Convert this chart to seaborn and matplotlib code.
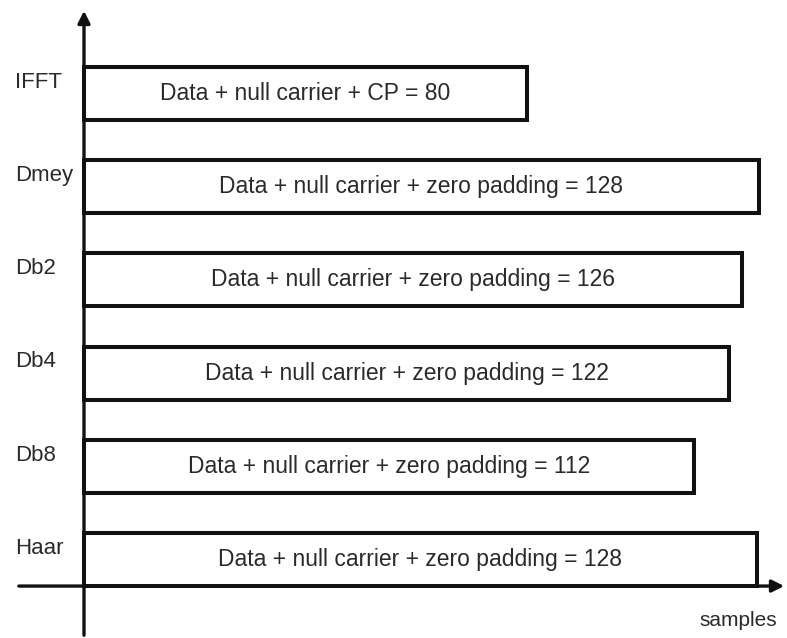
import pandas as pd
from matplotlib import pyplot as plt
import seaborn as sb

sb.set_theme(style="white")
plt.rcParams["font.family"] = ["Liberation Sans", "DejaVu Sans"]

methods = ["IFFT", "Dmey", "Db2", "Db4", "Db8", "Haar"]
sample_counts = [80, 128, 126, 122, 112, 128]
padding = ["CP", "zero padding", "zero padding", "zero padding", "zero padding", "zero padding"]
# drawn length of each block (samples axis)
block_length = [84.1, 128.0, 124.9, 122.4, 115.8, 127.7]

data = pd.DataFrame({"method": methods, "length": block_length})

BAR_W = 0.57
fig = plt.figure(figsize=(7.87, 6.38), dpi=100)
ax = fig.add_axes([0, 0, 1, 1])

sb.barplot(data=data, x="length", y="method", orient="h", color="white",
           edgecolor="#111111", linewidth=2.9, width=BAR_W, ax=ax)

# block captions
for i, (n, pad) in enumerate(zip(sample_counts, padding)):
    ax.text(block_length[i] / 2, i, "Data + null carrier + %s = %d" % (pad, n),
            ha="center", va="center", fontsize=16.5, color="#2a2a2a")

# method names on the left, a bit above the block centre
for i, m in enumerate(methods):
    ax.text(15 / 787, i - 0.12, m, transform=ax.get_yaxis_transform(),
            ha="left", va="center", fontsize=16, color="#2a2a2a")

ax.set_xlim(-84 / 5.27, (787 - 84) / 5.27)
ax.set_ylim((638 - 93.5) / 93.2, -93.5 / 93.2)
ax.axis("off")

# hand drawn axes with arrow heads
base = len(methods) - 1 + BAR_W / 2
ax.annotate("", xy=(0, 1 - 8 / 638), xytext=(0, 0), xycoords=ax.get_xaxis_transform(),
            arrowprops=dict(arrowstyle="-|>", color="#111111", lw=2.4, mutation_scale=18))
ax.annotate("", xy=(1.0, base), xytext=(16 / 787, base), xycoords=ax.get_yaxis_transform(),
            arrowprops=dict(arrowstyle="-|>", color="#111111", lw=2.4, mutation_scale=18))
ax.text(738 / 787, 1 - 620 / 638, "samples", transform=ax.transAxes,
        ha="center", va="center", fontsize=15, color="#2a2a2a")

plt.savefig("out.png", dpi=100)
